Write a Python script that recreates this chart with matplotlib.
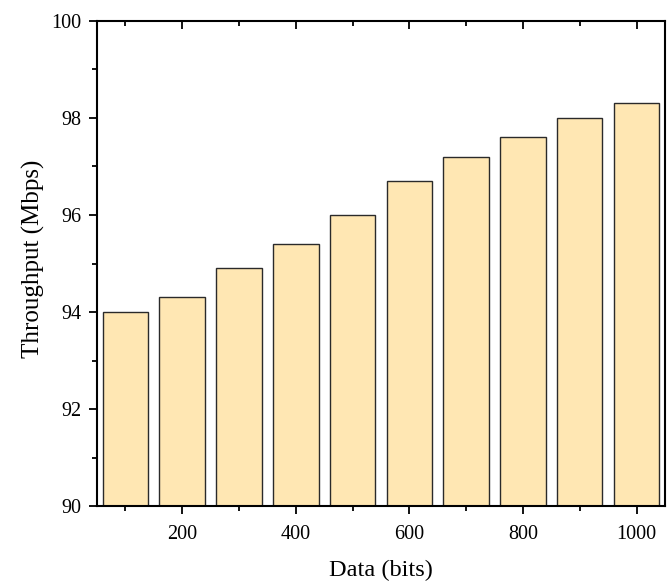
import matplotlib
matplotlib.use("Agg")
import matplotlib.pyplot as plt
from matplotlib.ticker import MultipleLocator

data_bits = [100, 200, 300, 400, 500, 600, 700, 800, 900, 1000]
throughput = [94.0, 94.3, 94.9, 95.4, 96.0, 96.7, 97.2, 97.6, 98.0, 98.3]
xticks = [200, 400, 600, 800, 1000]
yticks = [90, 92, 94, 96, 98, 100]

plt.rcParams['font.family'] = ['Liberation Serif', 'DejaVu Serif']

fig = plt.figure(figsize=(6.7, 5.81), dpi=100)
ax = fig.add_axes([0.1448, 0.129, 0.8477, 0.8349])

ax.bar(data_bits, [v - 90 for v in throughput], bottom=90, width=80,
       color='#FFE7B3', edgecolor='#2a2a2a', linewidth=1.0, zorder=2)

ax.set_xlim(50, 1050)
ax.set_ylim(90, 100)
ax.set_xticks(xticks)
ax.set_yticks(yticks)
ax.xaxis.set_minor_locator(MultipleLocator(100))
ax.yaxis.set_minor_locator(MultipleLocator(1))
ax.tick_params(axis='both', which='major', direction='out', length=6, width=1.3,
               labelsize=14.5, colors='black')
ax.tick_params(axis='both', which='minor', direction='out', length=3.5, width=1.3)
ax.tick_params(axis='x', which='both', pad=8)
ax.tick_params(axis='y', which='both', pad=5)
# top ticks inward
sec = ax.secondary_xaxis('top')
sec.set_xticks(xticks)
sec.xaxis.set_minor_locator(MultipleLocator(100))
sec.tick_params(which='major', direction='in', length=6, width=1.3, labeltop=False)
sec.tick_params(which='minor', direction='in', length=3.5, width=1.3)
sec.spines['top'].set_visible(False)

for s in ax.spines.values():
    s.set_linewidth(1.5)

ax.set_xlabel('Data (bits)', fontsize=17.5)
ax.set_ylabel('Throughput (Mbps)', fontsize=18)
ax.xaxis.set_label_coords(0.5, -0.11)
ax.yaxis.set_label_coords(-0.092, 0.51)

fig.savefig('out.png', dpi=100)
